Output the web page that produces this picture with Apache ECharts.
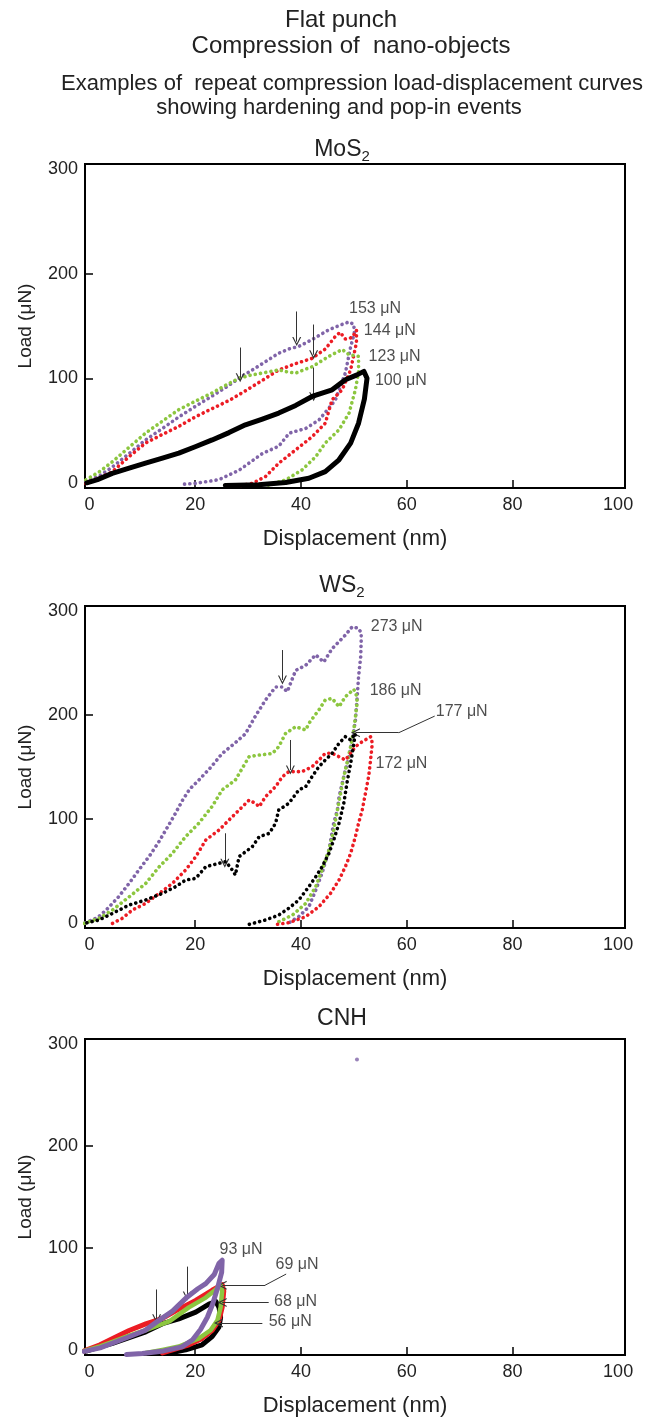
<!DOCTYPE html>
<html><head><meta charset="utf-8">
<script src="https://cdn.jsdelivr.net/npm/echarts@6/dist/echarts.min.js"></script>
<style>html,body{margin:0;padding:0;background:#fff}#c{width:656px;height:1418px}</style>
</head><body><div id="c"></div>
<script>
// ---------- ticks ----------
const xTickLabels = [0, 20, 40, 60, 80, 100];
const xTickMarks = [20, 40, 60, 80];
const yTickLabels = [0, 100, 200, 300];
const yTickMarks = [100, 200];

// ---------- titles ----------
const mainTitles = ["Flat punch", "Compression of  nano-objects",
  "Examples of  repeat compression load-displacement curves",
  "showing hardening and pop-in events"];
const panelNames = [["MoS", "2"], ["WS", "2"], ["CNH", ""]];
const xName = "Displacement (nm)";
const yName = "Load (μN)";

// ---------- MoS2 ----------
const mos2Purple = [[-0.7,1],[2,7],[4.3,15],[7.5,28],[10.6,41],[13.8,52],[16.9,63],[20,73],[23.2,83],[26,92],[28.3,100],[30.5,107],[32.7,114],[35.8,124],[37.7,128],[39.6,130.5],[42.1,137],[45.3,146.5],[47.5,151],[49.1,154],[50,151.5],
  [50.1,143],[49.4,130],[48.4,105],[46.5,79],[43.4,60],[40.9,52],[37.8,47.5],[35.8,35],[32.7,28],[30.5,20],[28.3,12],[24.5,3],[20.1,-0.5],[17.5,-1.5]];
const mos2Red = [[-0.7,-0.5],[2,5],[4.3,10.5],[7.5,25],[10.6,38],[13.3,45],[16.9,54],[20,63],[23.2,71],[26.5,79],[29.5,88],[32.7,98],[35.8,108],[39,114],[42.1,119],[44.6,128],[46.5,140],[47.4,144],[48.4,137.5],[49.7,139],[50.5,146],
  [50.5,134],[49.4,108],[47.8,89],[45.9,79.5],[44.6,57],[42.1,44],[39,31.5],[35.8,18.7],[33.3,6],[30.8,-0.5],[28.3,-3]];
const mos2Green = [[-0.7,2.7],[2,11],[4.3,20],[7.5,34],[10.6,47.5],[13.8,59],[16.9,70],[20,78],[23.2,86],[26,94],[28.3,100],[30.5,103],[32.7,105],[35.8,108],[37.5,106],[39,105],[40.5,108],[42.1,111],[45.3,121],[47.8,127.5],[49.1,122.5],[50.9,121],
  [50.9,106.6],[50.3,89],[49.1,66.7],[47.2,50.7],[44.6,38],[42.8,25],[40.2,12.3],[37.1,2.7],[33.3,-3]];
const mos2Black = [[-0.5,0],[1.5,3],[4.3,9],[7.5,14],[10.6,18.7],[13.8,23.5],[16.9,28.3],[20,34.5],[23.2,41],[26.4,48],[29.5,55.5],[32.7,61],[35.8,66.7],[39,74],[42.1,82.6],[45.9,89],[48.4,98.6],[50.5,103],[51.9,106.6],
  [52.5,100],[52,80],[50.9,57],[49.4,38],[47.2,22],[44.6,10.7],[41.5,4.3],[37.1,0.2],[32,-2],[25.7,-2.6]];
const mos2Labels = [[49.1,166.8,"153 μN"],[51.9,145.7,"144 μN"],[52.8,120.7,"123 μN"],[54,97.7,"100 μN"]];
const mos2Arrows = [[28.5,129.4,28.5,100.6],[39.2,163.9,39.2,135.1],[42.4,151.4,42.4,122.6],[42.4,110.2,42.4,82.3]];
const mos2Leaders = [];

// ---------- WS2 ----------
const ws2Purple = [[-0.8,0],[1.5,5],[3.1,12],[5.5,25],[7.5,38],[9.5,52],[11.3,64],[13,77],[14.4,89],[16,103],[17.6,118],[19,129],[20.7,137.5],[23,150],[25.1,163],[27.5,173],[29.5,182],[31.5,200],[33.3,214.5],[35.2,227],[36.5,227],[37.4,222.5],[39,243],[40.9,248],[42.8,258],[44.3,251],[45.9,264],[48.4,277],[49.7,285],[50.9,283.5],[51.4,279],
  [51.4,272],[51.3,256],[50.9,237],[50.6,214.5],[50.3,195],[49.7,176],[49.1,160],[48.4,147],[47.8,134],[47.2,121],[46.9,108.6],[46.2,96],[45.3,70],[44,48],[42.8,31.6],[41.5,15.5],[39.6,6],[37.1,-2]];
const ws2Green = [[-1,-0.5],[1.8,4.3],[4.35,12.3],[7.5,25],[10.65,38],[13.2,54],[15.7,67],[18.2,83],[20.7,96],[23.2,112],[25.1,128],[27.6,137.5],[30.2,160],[32.1,161.5],[34.6,163],[35.8,169.6],[37.1,182.4],[39,188.8],[40.9,185.6],[41.5,192],[43.4,205],[44.6,214.5],[45.9,216],[47.2,208],[48.4,217.7],[50,224.8],[50.6,217.7],
  [50.6,211],[50,185.6],[49.4,169.6],[48.7,153.5],[48.1,140.7],[47.5,124.6],[46.9,108.6],[46.2,89.3],[45.3,70],[44,51],[42.8,34.8],[40.9,18.7],[38.4,7.5],[35.2,-0.5]];
const ws2Red = [[4.35,-0.5],[6.2,4.3],[8.1,12.3],[10.65,18.7],[13.2,28.4],[15.7,38],[18.2,50.9],[20.1,63.6],[22,79.7],[24.5,89.3],[26.4,99],[28.3,108.6],[30.2,118.2],[31.4,115],[32.1,111.8],[33.3,121.4],[35.2,131.1],[36.5,140.7],[37.7,145.5],[40.2,145.5],[42.1,150.3],[43.4,156.7],[44.6,163.2],[45.9,163.2],[47.2,159.9],[48.4,156.7],[49.4,163.2],[50.3,169.6],[51.6,174.4],[53.2,179.2],
  [53.5,172.8],[53.1,153.5],[52.8,140.7],[52.2,124.6],[51.6,108.6],[50.9,95.8],[50.3,82.9],[49.4,66.9],[48.4,54],[47.2,41.2],[45.6,28.4],[43.4,15.5],[40.9,5.9],[37.7,0.1],[34.6,-2.1]];
const ws2Black = [[-0.5,0],[1.8,2.7],[4.35,9.1],[7.5,17.1],[10.65,22],[13.8,28.4],[16.3,34.8],[18.2,41.2],[20.1,42.8],[22,54],[24.5,57.3],[25.8,58.9],[27,50.9],[27.6,46],[28.3,63.7],[30.8,73.3],[32.1,82.9],[34,86.1],[35.2,95.8],[35.8,108.6],[37.7,115],[39.6,127.9],[40.9,131.1],[42.1,140.7],[43.4,150.3],[44.6,156.7],[45.9,163.2],[47.2,172.8],[48.4,179.2],[49.4,176],[50.3,182.4],
  [50,172.8],[49.4,153.5],[48.7,134.3],[48.1,115],[47.2,95.8],[46.2,79.7],[45.3,66.9],[44,54],[42.8,44.4],[41.5,34.8],[39.6,22],[37.7,14],[35.8,7.5],[33.3,2.7],[30.2,-1.5]];
const ws2Labels = [[53.2,285,"273 μN"],[53,223.5,"186 μN"],[65.5,203.2,"177 μN"],[54.1,153.5,"172 μN"]];
const ws2Arrows = [[36.5,262.6,36.5,233.8],[38,176,38,147.1],[25.6,86.2,25.6,57.3]];
const ws2Leaders = [[[65.3,199],[58.5,183],[50.3,183]]];

// ---------- CNH ----------
const cnhBlack = [[-0.5,-1],[2,3],[4.35,6.5],[7.5,12],[10.65,17.7],[13.8,25.7],[16.9,30.5],[20.1,37],[22.6,45],[23.9,47.5],
  [24.5,41.7],[24.8,32],[24.5,22.5],[23.2,13],[21.3,5],[18.2,0],[15.1,-3]];
const cnhRed = [[-1,-1],[2,5],[4.3,11],[7.5,19],[10.65,25.5],[13.8,31],[16.9,40],[20.1,48.5],[23.2,58.5],[25.1,64],
  [25.4,57.7],[25.1,41.7],[24.5,29],[23.2,19.3],[21.3,11.3],[18.8,5],[15.7,0],[13.8,-3]];
const cnhGreen = [[-1,-1],[2,3.5],[4.35,8],[7.5,14],[10.65,19.3],[13,24],[15.1,28],[18.8,41.7],[22,51.3],[23.9,59.3],[24.8,64],
  [25.1,57.7],[24.8,41.7],[24.2,29],[22.9,19.3],[20.7,11.3],[16.9,3.3],[13.8,0],[10.65,-3]];
const cnhPurple = [[-1,-1.5],[2,2],[4.3,6.5],[7.5,12.9],[10.5,19],[12.6,27],[15.7,38],[18.5,52],[20.5,60],[22,65],[23.6,74],[24.5,85],[25.1,88],
  [25,76],[24.3,62],[23.3,45],[22.3,32],[21,20],[19.5,10],[17.5,3],[14,-1],[10,-3.5],[7,-4.5]];
const cnhStray = [[50.6,284.8]];
const cnhLabels = [[24.6,98.6,"93 μN"],[35.2,83.3,"69 μN"],[34.9,47.1,"68 μN"],[33.9,27.3,"56 μN"]];
const cnhArrows = [[12.7,59.3,12.7,30.5],[18.5,81.7,18.5,52.9]];
const cnhLeaders = [[[37.2,74.4],[33.2,63.4],[25.1,63.4]],[[33.9,46.5],[25.1,46.5]],[[32.7,26.4],[24.4,26.4]]];

// ---------- styling ----------
const FONT = "Liberation Sans";
const C = {purple: "#8064a8", red: "#ec1c24", green: "#8cc63f", black: "#000000"};
const chevron = "path://M5,0 L10,10 L8.6,10 L5,2.8 L1.4,10 L0,10 Z";

const grids = [
  {left: 85, top: 164, width: 540, height: 324},
  {left: 85, top: 606, width: 540, height: 322},
  {left: 85, top: 1039, width: 540, height: 323}
].map(g => Object.assign(g, {show: true, borderColor: "#000", borderWidth: 2, backgroundColor: "transparent"}));

function xAx(i) {
  return {gridIndex: i, type: "value", min: -0.85, max: 101.3,
    axisLine: {show: true, onZero: false, lineStyle: {color: "#000", width: 2}},
    axisTick: {show: true, inside: true, length: 8, customValues: xTickMarks, lineStyle: {color: "#000", width: 1.5}},
    axisLabel: {customValues: xTickLabels, fontSize: 18, color: "#222", fontFamily: FONT, margin: 8},
    splitLine: {show: false},
    name: xName, nameLocation: "middle", nameGap: 40,
    nameTextStyle: {fontSize: 22, color: "#222", fontFamily: FONT}};
}
function yAx(i) {
  return {gridIndex: i, type: "value", min: -5, max: 305,
    axisLine: {show: true, onZero: false, lineStyle: {color: "#000", width: 2}},
    axisTick: {show: true, inside: true, length: 8, customValues: yTickMarks, lineStyle: {color: "#000", width: 1.5}},
    axisLabel: {customValues: yTickLabels, fontSize: 18, color: "#222", fontFamily: FONT, margin: 7},
    splitLine: {show: false},
    name: yName, nameLocation: "middle", nameGap: 50,
    nameTextStyle: {fontSize: 19, color: "#222", fontFamily: FONT}};
}

function curve(i, data, color, solid, width, z) {
  return {type: "line", xAxisIndex: i, yAxisIndex: i, data: data, symbol: "none", showSymbol: false,
    silent: true, animation: false, z: z, clip: false,
    lineStyle: solid ? {color: color, width: width, cap: "round", join: "round"}
                     : {color: color, width: width, type: [0.1, 5.2], cap: "round"}};
}

function notes(i, labels, arrows, leaders) {
  const ml = [];
  arrows.forEach(a => ml.push([{coord: [a[0], a[1]], symbol: "none"}, {coord: [a[2], a[3]], symbol: chevron, symbolSize: 9}]));
  leaders.forEach(pts => {
    for (let k = 0; k < pts.length - 1; k++) {
      const last = k === pts.length - 2;
      ml.push([{coord: pts[k], symbol: "none"}, {coord: pts[k + 1], symbol: last ? chevron : "none", symbolSize: 9}]);
    }
  });
  return {type: "scatter", xAxisIndex: i, yAxisIndex: i, symbolSize: 0, silent: true, animation: false, z: 20,
    data: labels.map(l => ({value: [l[0], l[1]], label: {formatter: l[2]}})),
    label: {show: true, position: "right", distance: 0, fontSize: 16, color: "#222", fontFamily: FONT},
    markLine: {silent: true, animation: false, symbol: ["none", "none"], symbolSize: 9,
      lineStyle: {color: "#333", width: 1, type: "solid"}, label: {show: false}, emphasis: {disabled: true}, data: ml}};
}

const series = [
  curve(0, mos2Purple, C.purple, false, 3.6, 2),
  curve(0, mos2Red, C.red, false, 3.6, 3),
  curve(0, mos2Green, C.green, false, 3.6, 4),
  curve(0, mos2Black, C.black, true, 5, 5),
  notes(0, mos2Labels, mos2Arrows, mos2Leaders),
  curve(1, ws2Purple, C.purple, false, 3.6, 2),
  curve(1, ws2Green, C.green, false, 3.6, 3),
  curve(1, ws2Red, C.red, false, 3.6, 4),
  curve(1, ws2Black, C.black, false, 3.6, 5),
  notes(1, ws2Labels, ws2Arrows, ws2Leaders),
  curve(2, cnhBlack, C.black, true, 5, 2),
  curve(2, cnhRed, C.red, true, 5, 3),
  curve(2, cnhGreen, C.green, true, 4.5, 4),
  curve(2, cnhPurple, C.purple, true, 5, 5),
  {type: "scatter", xAxisIndex: 2, yAxisIndex: 2, data: cnhStray, symbolSize: 4, silent: true, animation: false,
    itemStyle: {color: C.purple}},
  notes(2, cnhLabels, cnhArrows, cnhLeaders)
];

const titleY = [20, 46, 84, 108];
const titleX = [341, 351, 352, 339];
const titleSize = [24, 24, 22, 22];
const panelTitleY = [150, 586, 1019];
const graphic = [];
mainTitles.forEach((t, k) => graphic.push({type: "text", x: titleX[k], y: titleY[k],
  style: {text: t, fontSize: titleSize[k], fontFamily: FONT, fill: "#222", textAlign: "center", textVerticalAlign: "middle"}}));
panelNames.forEach((p, k) => graphic.push({type: "text", x: 342, y: panelTitleY[k],
  style: {text: p[1] ? "{a|" + p[0] + "}{b|" + p[1] + "}" : "{a|" + p[0] + "}",
    fontFamily: FONT, fill: "#222", textAlign: "center", textVerticalAlign: "middle",
    rich: {a: {fontSize: 23, fontFamily: FONT, fill: "#222", lineHeight: 30},
           b: {fontSize: 15, fontFamily: FONT, fill: "#222", lineHeight: 30, padding: [14, 0, 0, 0]}}}}));

const chart = echarts.init(document.getElementById("c"), null, {renderer: "canvas"});
chart.setOption({
  animation: false, backgroundColor: "#fff",
  grid: grids,
  xAxis: [0, 1, 2].map(xAx),
  yAxis: [0, 1, 2].map(yAx),
  series: series,
  graphic: graphic
});
</script></body></html>
